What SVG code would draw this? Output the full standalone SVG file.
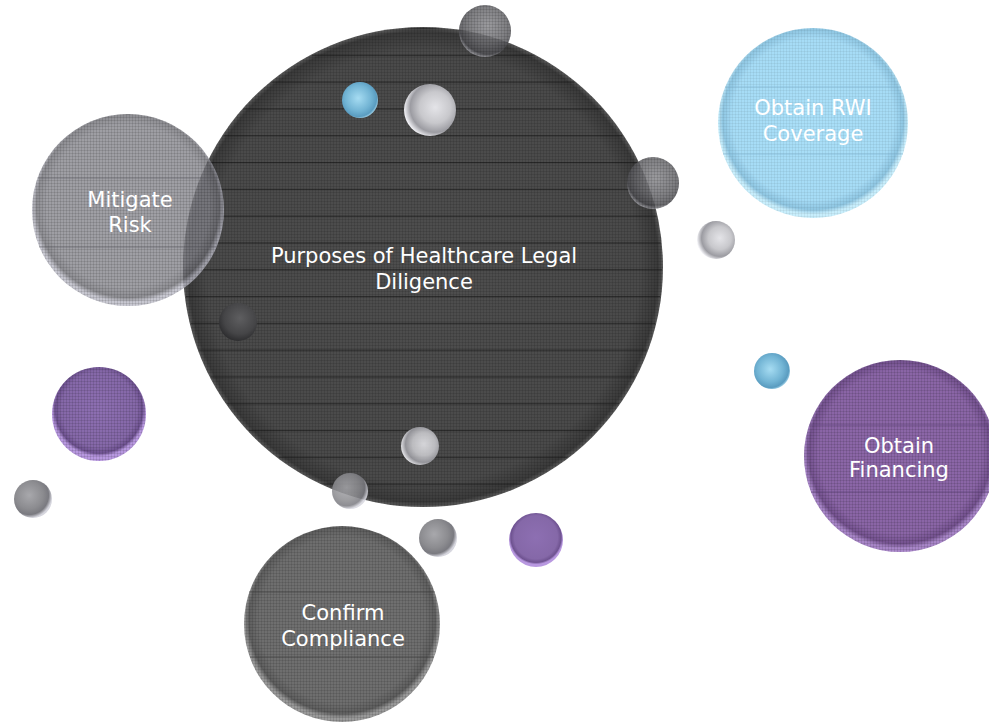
<svg xmlns="http://www.w3.org/2000/svg" width="989" height="722" viewBox="0 0 989 722">
<style>
.lbl{font-family:'DejaVu Sans','Noto Sans',sans-serif;font-size:21px;fill:#ffffff;text-anchor:middle}
.hl{stroke-width:1.2;fill:none}
</style>
<defs>
<pattern id="grid" width="3" height="3" patternUnits="userSpaceOnUse">
<rect x="0" y="0" width="3" height="1" fill="#000" fill-opacity="0.10"/>
<rect x="0" y="0" width="1" height="3" fill="#000" fill-opacity="0.10"/>
</pattern>
<pattern id="hlC" width="10" height="26.8" y="1.2" patternUnits="userSpaceOnUse">
<rect x="0" y="0" width="10" height="1.2" fill="#1a1a1a"/>
</pattern>
<radialGradient id="gCenter" cx="50%" cy="50%" r="50%">
<stop offset="0" stop-color="#4e4e4e"/>
<stop offset="0.9" stop-color="#4a4a4a"/>
<stop offset="0.98" stop-color="#3a3a3a"/>
<stop offset="1" stop-color="#5a5a5a"/>
</radialGradient>
<radialGradient id="gGray" cx="50%" cy="48%" r="50%">
<stop offset="0" stop-color="#85858c"/>
<stop offset="0.85" stop-color="#83838a"/>
<stop offset="0.95" stop-color="#6e6e74"/>
<stop offset="1" stop-color="#b8b8c4"/>
</radialGradient>
<radialGradient id="gBlue" cx="50%" cy="48%" r="50%">
<stop offset="0" stop-color="#aadff8"/>
<stop offset="0.85" stop-color="#a6dcf6"/>
<stop offset="0.95" stop-color="#8fc6e2"/>
<stop offset="1" stop-color="#c8eefc"/>
</radialGradient>
<radialGradient id="gPurple" cx="50%" cy="48%" r="50%">
<stop offset="0" stop-color="#8c67a8"/>
<stop offset="0.85" stop-color="#8a65a6"/>
<stop offset="0.95" stop-color="#74528f"/>
<stop offset="1" stop-color="#a886c8"/>
</radialGradient>
<radialGradient id="gComp" cx="50%" cy="48%" r="50%">
<stop offset="0" stop-color="#717171"/>
<stop offset="0.85" stop-color="#6e6e6e"/>
<stop offset="0.95" stop-color="#5e5e5e"/>
<stop offset="1" stop-color="#9a9a9a"/>
</radialGradient>
<radialGradient id="gSmallPurple" cx="50%" cy="45%" r="50%">
<stop offset="0" stop-color="#8d6fb2"/>
<stop offset="0.8" stop-color="#8568a8"/>
<stop offset="0.93" stop-color="#6e5290"/>
<stop offset="1" stop-color="#b898e0"/>
</radialGradient>
<radialGradient id="gSphereGray" cx="40%" cy="40%" r="60%">
<stop offset="0" stop-color="#a8a8ac"/>
<stop offset="0.6" stop-color="#8c8c90"/>
<stop offset="0.85" stop-color="#7a7a80"/>
<stop offset="1" stop-color="#d6d6de"/>
</radialGradient>
<radialGradient id="gSphereLight" cx="60%" cy="45%" r="60%">
<stop offset="0" stop-color="#e4e4e8"/>
<stop offset="0.5" stop-color="#c8c8cc"/>
<stop offset="0.8" stop-color="#9c9ca2"/>
<stop offset="1" stop-color="#f2f2f6"/>
</radialGradient>
<radialGradient id="gSphereBlue" cx="45%" cy="45%" r="60%">
<stop offset="0" stop-color="#a6dcf2"/>
<stop offset="0.6" stop-color="#72b4d4"/>
<stop offset="0.85" stop-color="#5a9cc0"/>
<stop offset="1" stop-color="#c4ecfc"/>
</radialGradient>
<radialGradient id="gSphereDark" cx="55%" cy="40%" r="60%">
<stop offset="0" stop-color="#8a8a8e"/>
<stop offset="0.6" stop-color="#6a6a6e"/>
<stop offset="0.9" stop-color="#505054"/>
<stop offset="1" stop-color="#9a9aa0"/>
</radialGradient>
<radialGradient id="gSphereInner" cx="55%" cy="40%" r="60%">
<stop offset="0" stop-color="#5e5e60"/>
<stop offset="0.7" stop-color="#454547"/>
<stop offset="1" stop-color="#2e2e30"/>
</radialGradient>
</defs>
<rect width="989" height="722" fill="#ffffff"/>
<g id="connectors"/>

<g id="node-center">
<circle cx="423" cy="267" r="240" fill="url(#gCenter)"/>
<circle cx="423" cy="267" r="239" fill="url(#hlC)" fill-opacity="0.65"/>
<circle cx="423" cy="267" r="240" fill="url(#grid)"/>
<text class="lbl" x="424" y="263">Purposes of Healthcare Legal</text>
<text class="lbl" x="424" y="289">Diligence</text>
</g>

<g id="node-mitigate">
<circle cx="128" cy="210" r="96" fill="url(#gGray)" fill-opacity="0.78"/>
<circle cx="128" cy="210" r="96" fill="url(#grid)"/>
<line class="hl" x1="37.5" y1="178" x2="218.5" y2="178" stroke="#5a5a60" stroke-opacity="0.5"/>
<line class="hl" x1="39.4" y1="247" x2="216.6" y2="247" stroke="#5a5a60" stroke-opacity="0.5"/>
<text class="lbl" x="130" y="207">Mitigate</text>
<text class="lbl" x="130" y="232">Risk</text>
</g>

<g id="node-rwi">
<circle cx="813" cy="123" r="95" fill="url(#gBlue)"/>
<circle cx="813" cy="123" r="95" fill="url(#grid)" fill-opacity="0.5"/>
<line class="hl" x1="725" y1="87" x2="901" y2="87" stroke="#7fb6d4" stroke-opacity="0.6"/>
<line class="hl" x1="723" y1="154" x2="903" y2="154" stroke="#7fb6d4" stroke-opacity="0.6"/>
<text class="lbl" x="813" y="115">Obtain RWI</text>
<text class="lbl" x="813" y="141">Coverage</text>
</g>

<g id="node-financing">
<circle cx="900" cy="456" r="96" fill="url(#gPurple)"/>
<circle cx="900" cy="456" r="96" fill="url(#grid)"/>
<line class="hl" x1="809" y1="425" x2="991" y2="425" stroke="#5c3f74" stroke-opacity="0.6"/>
<line class="hl" x1="811" y1="492" x2="989" y2="492" stroke="#5c3f74" stroke-opacity="0.6"/>
<text class="lbl" x="899" y="453">Obtain</text>
<text class="lbl" x="899" y="477">Financing</text>
</g>

<g id="node-compliance">
<circle cx="342" cy="624" r="98" fill="url(#gComp)"/>
<circle cx="342" cy="624" r="98" fill="url(#grid)"/>
<line class="hl" x1="249" y1="592" x2="435" y2="592" stroke="#3e3e3e" stroke-opacity="0.6"/>
<line class="hl" x1="250" y1="657" x2="434" y2="657" stroke="#3e3e3e" stroke-opacity="0.6"/>
<text class="lbl" x="343" y="620">Confirm</text>
<text class="lbl" x="343" y="646">Compliance</text>
</g>

<g id="decor-bubbles">
<circle cx="99" cy="414" r="47" fill="url(#gSmallPurple)"/>
<circle cx="99" cy="414" r="47" fill="url(#grid)"/>
<circle cx="33" cy="499" r="19" fill="url(#gSphereGray)"/>
<circle cx="238" cy="322" r="19" fill="url(#gSphereInner)"/>
<circle cx="485" cy="31" r="26" fill="url(#gSphereDark)" fill-opacity="0.85"/>
<circle cx="360" cy="100" r="18" fill="url(#gSphereBlue)"/>
<circle cx="430" cy="110" r="26" fill="url(#gSphereLight)"/>
<circle cx="653" cy="183" r="26" fill="url(#gSphereDark)" fill-opacity="0.85"/>
<circle cx="716" cy="240" r="19" fill="url(#gSphereLight)"/>
<circle cx="772" cy="371" r="18" fill="url(#gSphereBlue)"/>
<circle cx="420" cy="446" r="19" fill="url(#gSphereLight)" fill-opacity="0.9"/>
<circle cx="350" cy="491" r="18" fill="url(#gSphereGray)" fill-opacity="0.85"/>
<circle cx="438" cy="538" r="19" fill="url(#gSphereGray)"/>
<circle cx="536" cy="540" r="27" fill="url(#gSmallPurple)"/>
<circle cx="485" cy="31" r="26" fill="url(#grid)"/>
<circle cx="653" cy="183" r="26" fill="url(#grid)"/>
</g>
</svg>
